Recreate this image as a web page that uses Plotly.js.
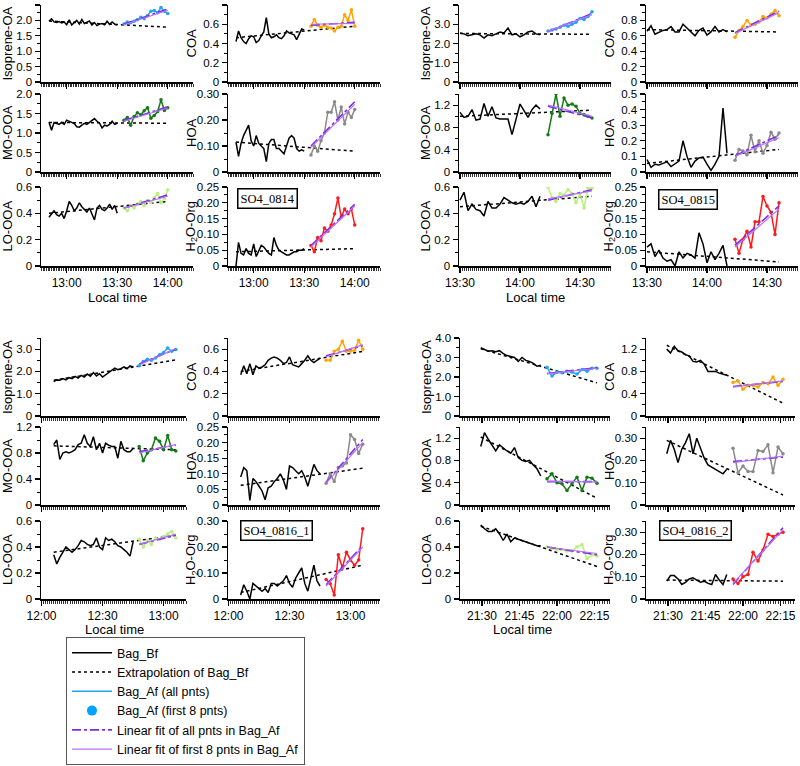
<!DOCTYPE html>
<html><head><meta charset="utf-8">
<script src="https://cdn.plot.ly/plotly-3.0.1.min.js"></script>
<style>html,body{margin:0;padding:0;background:#fff}</style>
</head><body><div id="chart" style="width:800px;height:766px"></div>
<script>
// ================= DATA =================
// ---- SO4_0814 (group 1) ----
const g1_date = '2018-08-14';
const g1_bf_time = ['12:49:30','12:51:00','12:52:30','12:54:00','12:55:30','12:57:00','12:58:30','13:00:00','13:01:30','13:03:00','13:04:30','13:06:00','13:07:30','13:09:00','13:10:30','13:12:00','13:13:30','13:15:00','13:16:30','13:18:00','13:19:30','13:21:00','13:22:30','13:24:00','13:25:30','13:27:00','13:28:30','13:30:00'];
const g1_af_time = ['13:34:00','13:36:00','13:38:00','13:40:00','13:42:00','13:44:00','13:46:00','13:48:00','13:50:00','13:52:00','13:54:00','13:56:00','13:58:00','14:00:00'];
const g1_iso_bf = [1.97,2.05,1.95,1.93,1.96,1.92,1.95,1.86,2.02,1.85,1.93,2.0,1.88,2.03,1.9,1.93,1.98,1.85,1.93,1.83,1.88,1.9,1.86,1.97,1.87,1.95,1.88,1.85];
const g1_iso_af = [1.88,1.95,1.92,1.97,2.02,2.1,2.05,2.15,2.3,2.32,2.25,2.42,2.3,2.22];
const g1_iso_ext = [1.98,1.78], g1_iso_fitAll = [1.88,2.37], g1_iso_fit8 = [1.86,2.33];
const g1_mo_bf = [1.28,1.07,1.27,1.24,1.22,1.27,1.22,1.33,1.3,1.28,1.24,1.16,1.15,1.2,1.25,1.22,1.27,1.33,1.37,1.3,1.25,1.13,1.2,1.18,1.22,1.3,1.22,1.25];
const g1_mo_af = [1.33,1.4,1.2,1.42,1.52,1.47,1.57,1.65,1.38,1.45,1.55,1.85,1.58,1.65];
const g1_mo_ext = [1.27,1.25], g1_mo_fitAll = [1.32,1.67], g1_mo_fit8 = [1.3,1.64];
const g1_lo_bf = [0.37,0.4,0.42,0.39,0.38,0.4,0.36,0.42,0.49,0.46,0.42,0.44,0.48,0.45,0.43,0.41,0.44,0.4,0.35,0.44,0.46,0.43,0.42,0.44,0.47,0.43,0.46,0.4];
const g1_lo_af = [0.44,0.42,0.46,0.44,0.47,0.49,0.46,0.5,0.48,0.52,0.55,0.48,0.51,0.58];
const g1_lo_ext = [0.40,0.49], g1_lo_fitAll = [0.44,0.54], g1_lo_fit8 = [0.44,0.53];
const g1_coa_bf = [0.42,0.53,0.46,0.42,0.4,0.45,0.48,0.47,0.41,0.43,0.48,0.52,0.67,0.5,0.46,0.47,0.49,0.46,0.45,0.48,0.53,0.51,0.5,0.49,0.44,0.5,0.55,0.54];
const g1_coa_af = [0.58,0.65,0.59,0.57,0.59,0.57,0.56,0.53,0.57,0.58,0.7,0.64,0.75,0.58];
const g1_coa_ext = [0.46,0.58], g1_coa_fitAll = [0.59,0.62], g1_coa_fit8 = [0.6,0.61];
const g1_hoa_bf = [0.115,0.06,0.11,0.14,0.16,0.18,0.12,0.1,0.14,0.11,0.1,0.09,0.04,0.11,0.125,0.125,0.09,0.09,0.08,0.07,0.1,0.13,0.14,0.13,0.09,0.08,0.085,0.08];
const g1_hoa_af = [0.065,0.1,0.08,0.12,0.15,0.23,0.23,0.27,0.2,0.25,0.185,0.23,0.21,0.24];
const g1_hoa_ext = [0.115,0.08], g1_hoa_fitAll = [0.1,0.27], g1_hoa_fit8 = [0.095,0.26];
const g1_h2o_bf = [0,0.075,0.04,0.035,0.055,0.04,0.035,0.07,0.03,0.05,0.065,0.06,0.05,0.04,0.035,0.09,0.065,0.05,0.045,0.04,0.035,0.035,0.04,0.045,0.045,0.05,0.05,0.055];
const g1_h2o_af = [0.065,0.045,0.09,0.08,0.12,0.11,0.13,0.165,0.215,0.155,0.18,0.165,0.18,0.13];
const g1_h2o_ext = [0.045,0.055], g1_h2o_fitAll = [0.065,0.195], g1_h2o_fit8 = [0.06,0.19];

// ---- SO4_0815 (group 2) ----
const g2_date = '2018-08-15';
const g2_bf_time = ['13:30:00','13:32:00','13:34:00','13:36:00','13:38:00','13:40:00','13:42:00','13:44:00','13:46:00','13:48:00','13:50:00','13:52:00','13:54:00','13:56:00','13:58:00','14:00:00','14:02:00','14:04:00','14:06:00','14:08:00','14:10:00'];
const g2_af_time = ['14:14:00','14:16:00','14:18:00','14:20:00','14:22:00','14:24:00','14:26:00','14:28:00','14:30:00','14:32:00','14:34:00','14:36:00'];
const g2_iso_bf = [2.55,2.5,2.4,2.45,2.5,2.45,2.28,2.45,2.4,2.5,2.6,2.55,2.8,2.45,2.5,2.35,2.45,2.6,2.65,2.5,2.45];
const g2_iso_af = [2.65,2.7,2.75,2.85,2.95,2.9,3.0,3.1,3.3,3.25,3.4,3.65];
const g2_iso_ext = [2.52,2.48], g2_iso_fitAll = [2.62,3.55], g2_iso_fit8 = [2.63,3.5];
const g2_mo_bf = [1.07,0.98,1.0,1.12,0.93,0.95,1.23,1.0,1.17,0.97,0.95,0.95,0.95,0.67,0.95,1.22,1.1,0.98,1.12,1.2,1.13];
const g2_mo_af = [0.67,1.05,1.4,1.0,1.33,1.2,1.22,1.18,1.05,1.03,1.0,0.97];
const g2_mo_ext = [1.0,1.11], g2_mo_fitAll = [1.18,0.97], g2_mo_fit8 = [1.2,1.0];
const g2_lo_bf = [0.5,0.56,0.42,0.47,0.43,0.42,0.38,0.49,0.44,0.44,0.47,0.52,0.5,0.48,0.47,0.48,0.47,0.49,0.53,0.45,0.53];
const g2_lo_af = [0.6,0.52,0.49,0.55,0.54,0.58,0.55,0.48,0.55,0.44,0.59,0.59];
const g2_lo_ext = [0.45,0.53], g2_lo_fitAll = [0.5,0.58], g2_lo_fit8 = [0.51,0.57];
const g2_coa_bf = [0.66,0.73,0.62,0.65,0.67,0.68,0.72,0.65,0.65,0.75,0.7,0.65,0.6,0.67,0.7,0.61,0.65,0.72,0.65,0.68,0.65];
const g2_coa_af = [0.58,0.67,0.72,0.8,0.74,0.75,0.78,0.85,0.83,0.88,0.93,0.86];
const g2_coa_ext = [0.68,0.65], g2_coa_fitAll = [0.64,0.92], g2_coa_fit8 = [0.63,0.9];
const g2_hoa_bf = [0.08,0.03,0.05,0.045,0.055,0.065,0.035,0.05,0.07,0.2,0.1,0.03,0.07,0.09,0.095,0.05,0.01,0.05,0.1,0.41,0.12];
const g2_hoa_af = [0.075,0.145,0.135,0.11,0.235,0.13,0.2,0.12,0.17,0.255,0.21,0.25];
const g2_hoa_ext = [0.055,0.145], g2_hoa_fitAll = [0.105,0.235], g2_hoa_fit8 = [0.1,0.22];
const g2_h2o_bf = [0.06,0.07,0.03,0.05,0.025,0.015,0.02,0.0,0.045,0.025,0.04,0.035,0.025,0.105,0.07,0.01,0.045,0.02,0.04,0.065,0.0];
const g2_h2o_af = [0.085,0.04,0.085,0.11,0.06,0.14,0.14,0.22,0.19,0.17,0.1,0.2];
const g2_h2o_ext = [0.045,0.013], g2_h2o_fitAll = [0.065,0.19], g2_h2o_fit8 = [0.06,0.18];

// ---- SO4_0816_1 (group 3) ----
const g3_date = '2018-08-16';
const g3_bf_time = ['12:06:00','12:07:30','12:09:00','12:10:30','12:12:00','12:13:30','12:15:00','12:16:30','12:18:00','12:19:30','12:21:00','12:22:30','12:24:00','12:25:30','12:27:00','12:28:30','12:30:00','12:31:30','12:33:00','12:34:30','12:36:00','12:37:30','12:39:00','12:40:30','12:42:00','12:43:30','12:45:00'];
const g3_af_time = ['12:48:00','12:50:00','12:52:00','12:54:00','12:56:00','12:58:00','13:00:00','13:02:00','13:04:00','13:06:00'];
const g3_iso_bf = [1.55,1.62,1.6,1.68,1.62,1.72,1.68,1.78,1.7,1.82,1.75,1.88,1.78,1.95,1.8,1.9,1.75,1.85,1.95,2.05,2.15,2.08,2.12,2.2,2.12,2.25,2.2];
const g3_iso_af = [2.25,2.45,2.55,2.5,2.6,2.75,2.85,3.05,2.9,2.98];
const g3_iso_ext = [1.6,2.52], g3_iso_fitAll = [2.33,3.0], g3_iso_fit8 = [2.3,3.02];
const g3_mo_bf = [0.93,1.0,0.7,0.8,0.82,0.8,0.82,0.85,0.93,0.95,1.08,0.95,0.9,1.05,0.85,0.95,0.8,0.95,0.92,0.9,0.9,0.72,0.98,0.85,0.82,0.82,0.87];
const g3_mo_af = [0.9,0.68,0.8,0.85,1.03,0.98,0.85,1.07,0.85,0.83];
const g3_mo_ext = [0.91,0.85], g3_mo_fitAll = [0.82,0.92], g3_mo_fit8 = [0.8,0.93];
const g3_lo_bf = [0.34,0.27,0.32,0.36,0.4,0.38,0.36,0.38,0.41,0.45,0.44,0.42,0.41,0.42,0.47,0.4,0.38,0.47,0.45,0.46,0.44,0.41,0.4,0.38,0.36,0.33,0.44];
const g3_lo_af = [0.46,0.4,0.45,0.42,0.47,0.46,0.48,0.5,0.52,0.47];
const g3_lo_ext = [0.36,0.49], g3_lo_fitAll = [0.42,0.49], g3_lo_fit8 = [0.42,0.5];
const g3_coa_bf = [0.37,0.45,0.38,0.47,0.37,0.45,0.43,0.44,0.46,0.5,0.52,0.53,0.52,0.5,0.47,0.48,0.53,0.46,0.45,0.44,0.47,0.5,0.54,0.5,0.48,0.5,0.52];
const g3_coa_af = [0.5,0.5,0.58,0.6,0.67,0.58,0.58,0.59,0.68,0.6];
const g3_coa_ext = [0.4,0.58], g3_coa_fitAll = [0.54,0.63], g3_coa_fit8 = [0.53,0.64];
const g3_hoa_bf = [0.09,0.12,0.11,0.015,0.085,0.075,0.06,0.045,0.017,0.055,0.06,0.075,0.085,0.1,0.08,0.05,0.125,0.12,0.11,0.1,0.11,0.09,0.06,0.1,0.13,0.11,0.1];
const g3_hoa_af = [0.07,0.1,0.075,0.12,0.125,0.135,0.225,0.21,0.165,0.195];
const g3_hoa_ext = [0.063,0.118], g3_hoa_fitAll = [0.072,0.21], g3_hoa_fit8 = [0.07,0.2];
const g3_h2o_bf = [0.015,0.055,0.03,0.0,0.06,0.05,0.04,0.03,0.04,0.025,0.06,0.06,0.05,0.06,0.07,0.09,0.06,0.045,0.08,0.1,0.12,0.06,0.03,0.08,0.13,0.07,0.05];
const g3_h2o_af = [0.075,0.06,0.015,0.17,0.12,0.18,0.15,0.13,0.15,0.27];
const g3_h2o_ext = [0.025,0.13], g3_h2o_fitAll = [0.055,0.205], g3_h2o_fit8 = [0.05,0.2];

// ---- SO4_0816_2 (group 4) ----
const g4_date = '2018-08-16';
const g4_bf_time = ['21:29:30','21:31:00','21:32:30','21:34:00','21:35:30','21:37:00','21:38:30','21:40:00','21:41:30','21:43:00','21:44:30','21:46:00','21:47:30','21:49:00','21:50:30','21:52:00','21:53:30'];
const g4_af_time = ['21:56:00','21:58:00','22:00:00','22:02:00','22:04:00','22:06:00','22:08:00','22:10:00','22:12:00','22:14:00','22:16:00'];
const g4_iso_bf = [3.5,3.4,3.32,3.35,3.3,3.35,3.2,3.1,3.05,3.0,2.8,3.0,2.85,2.8,2.7,2.55,2.6];
const g4_iso_af = [2.5,2.05,2.25,2.22,2.3,2.25,2.15,2.38,2.3,2.45,2.45];
const g4_iso_ext = [3.45,1.7], g4_iso_fitAll = [2.18,2.48], g4_iso_fit8 = [2.16,2.45];
const g4_mo_bf = [1.05,1.3,1.18,1.07,0.97,1.08,1.02,0.97,0.93,1.03,0.85,0.8,0.78,0.8,0.72,0.65,0.52];
const g4_mo_af = [0.47,0.56,0.4,0.38,0.26,0.38,0.5,0.26,0.5,0.48,0.39];
const g4_mo_ext = [1.22,0.12], g4_mo_fitAll = [0.42,0.42], g4_mo_fit8 = [0.43,0.41];
const g4_lo_bf = [0.57,0.54,0.52,0.52,0.54,0.5,0.45,0.5,0.44,0.47,0.46,0.45,0.44,0.43,0.42,0.41,0.41];
const g4_lo_af = [0.4,0.39,0.38,0.38,0.37,0.37,0.4,0.42,0.31,0.34,0.33];
const g4_lo_ext = [0.56,0.25], g4_lo_fitAll = [0.4,0.34], g4_lo_fit8 = [0.4,0.35];
const g4_coa_bf = [1.2,1.13,1.25,1.17,1.15,1.1,1.08,0.98,0.97,1.0,0.93,0.8,0.8,0.8,0.77,0.75,0.73];
const g4_coa_af = [0.6,0.63,0.48,0.55,0.55,0.52,0.6,0.58,0.7,0.55,0.66];
const g4_coa_ext = [1.27,0.23], g4_coa_fitAll = [0.53,0.62], g4_coa_fit8 = [0.52,0.63];
const g4_hoa_bf = [0.23,0.29,0.25,0.19,0.25,0.28,0.32,0.23,0.3,0.25,0.21,0.18,0.17,0.16,0.15,0.14,0.16];
const g4_hoa_af = [0.255,0.145,0.175,0.15,0.15,0.245,0.24,0.27,0.145,0.26,0.23];
const g4_hoa_ext = [0.29,0.045], g4_hoa_fitAll = [0.195,0.215], g4_hoa_fit8 = [0.19,0.22];
const g4_h2o_bf = [0.08,0.105,0.105,0.09,0.065,0.075,0.09,0.095,0.085,0.075,0.08,0.07,0.065,0.11,0.085,0.065,0.11];
const g4_h2o_af = [0.09,0.07,0.1,0.11,0.21,0.17,0.22,0.29,0.28,0.29,0.3];
const g4_h2o_ext = [0.085,0.08], g4_h2o_fitAll = [0.065,0.32], g4_h2o_fit8 = [0.07,0.31];

// axis maxima / tick steps / decimals for each panel
const g1_yaxes = {iso:[2.5,0.5,1], mo:[2.0,0.5,1], lo:[0.6,0.2,1], coa:[0.8,0.2,1], hoa:[0.30,0.10,2], h2o:[0.25,0.05,2]};
const g2_yaxes = {iso:[4.0,1.0,1], mo:[1.4,0.4,1], lo:[0.6,0.2,1], coa:[1.0,0.2,1], hoa:[0.5,0.1,1], h2o:[0.25,0.05,2]};
const g3_yaxes = {iso:[3.5,1.0,1], mo:[1.2,0.4,1], lo:[0.6,0.2,1], coa:[0.7,0.2,1], hoa:[0.25,0.05,2], h2o:[0.30,0.10,2]};
const g4_yaxes = {iso:[4.0,1.0,1], mo:[1.4,0.4,1], lo:[0.6,0.2,1], coa:[1.4,0.4,1], hoa:[0.35,0.10,2], h2o:[0.35,0.10,2]};

const legendNames = ['Bag_Bf','Extrapolation of Bag_Bf','Bag_Af (all pnts)','Bag_Af (first 8 pnts)','Linear fit of all pnts in Bag_Af','Linear fit of first 8 pnts in Bag_Af'];
const sampleLabels = ['SO4_0814','SO4_0815','SO4_0816_1','SO4_0816_2'];
const xTitle = 'Local time';

// ================= BUILD =================
const W = 800, H = 766;
const FONT = 'Arial, "Liberation Sans", sans-serif';
const SPEC = {
  iso:{title:'Isoprene-OA', color:'#1EA5F5'},
  mo:{title:'MO-OOA', color:'#157A15'},
  lo:{title:'LO-OOA', color:'#B8F07C'},
  coa:{title:'COA', color:'#FFA500'},
  hoa:{title:'HOA', color:'#8A8A8A'},
  h2o:{title:'H<sub>2</sub>O-Org', color:'#FF1A1A'}
};
const FIT_ALL = '#7A2FE0', FIT_8 = '#B870FF';
const ROWS_TOP = [[5,82],[94,172],[187,266]];
const ROWS_BOT = [[338,416],[427,505],[521,599]];

const DATA = {
  g1:{iso:[g1_iso_bf,g1_iso_af,g1_iso_ext,g1_iso_fitAll,g1_iso_fit8], mo:[g1_mo_bf,g1_mo_af,g1_mo_ext,g1_mo_fitAll,g1_mo_fit8], lo:[g1_lo_bf,g1_lo_af,g1_lo_ext,g1_lo_fitAll,g1_lo_fit8], coa:[g1_coa_bf,g1_coa_af,g1_coa_ext,g1_coa_fitAll,g1_coa_fit8], hoa:[g1_hoa_bf,g1_hoa_af,g1_hoa_ext,g1_hoa_fitAll,g1_hoa_fit8], h2o:[g1_h2o_bf,g1_h2o_af,g1_h2o_ext,g1_h2o_fitAll,g1_h2o_fit8]},
  g2:{iso:[g2_iso_bf,g2_iso_af,g2_iso_ext,g2_iso_fitAll,g2_iso_fit8], mo:[g2_mo_bf,g2_mo_af,g2_mo_ext,g2_mo_fitAll,g2_mo_fit8], lo:[g2_lo_bf,g2_lo_af,g2_lo_ext,g2_lo_fitAll,g2_lo_fit8], coa:[g2_coa_bf,g2_coa_af,g2_coa_ext,g2_coa_fitAll,g2_coa_fit8], hoa:[g2_hoa_bf,g2_hoa_af,g2_hoa_ext,g2_hoa_fitAll,g2_hoa_fit8], h2o:[g2_h2o_bf,g2_h2o_af,g2_h2o_ext,g2_h2o_fitAll,g2_h2o_fit8]},
  g3:{iso:[g3_iso_bf,g3_iso_af,g3_iso_ext,g3_iso_fitAll,g3_iso_fit8], mo:[g3_mo_bf,g3_mo_af,g3_mo_ext,g3_mo_fitAll,g3_mo_fit8], lo:[g3_lo_bf,g3_lo_af,g3_lo_ext,g3_lo_fitAll,g3_lo_fit8], coa:[g3_coa_bf,g3_coa_af,g3_coa_ext,g3_coa_fitAll,g3_coa_fit8], hoa:[g3_hoa_bf,g3_hoa_af,g3_hoa_ext,g3_hoa_fitAll,g3_hoa_fit8], h2o:[g3_h2o_bf,g3_h2o_af,g3_h2o_ext,g3_h2o_fitAll,g3_h2o_fit8]},
  g4:{iso:[g4_iso_bf,g4_iso_af,g4_iso_ext,g4_iso_fitAll,g4_iso_fit8], mo:[g4_mo_bf,g4_mo_af,g4_mo_ext,g4_mo_fitAll,g4_mo_fit8], lo:[g4_lo_bf,g4_lo_af,g4_lo_ext,g4_lo_fitAll,g4_lo_fit8], coa:[g4_coa_bf,g4_coa_af,g4_coa_ext,g4_coa_fitAll,g4_coa_fit8], hoa:[g4_hoa_bf,g4_hoa_af,g4_hoa_ext,g4_hoa_fitAll,g4_hoa_fit8], h2o:[g4_h2o_bf,g4_h2o_af,g4_h2o_ext,g4_h2o_fitAll,g4_h2o_fit8]}
};

const groups = [
  {id:'g1', date:g1_date, bfT:g1_bf_time, afT:g1_af_time, yax:g1_yaxes, rows:ROWS_TOP,
   cols:[[41,193],[228,380]], xr:[['12:44:45','14:15:00'],['12:44:45','14:15:00']], dtMin:30, lab:[267,198], xt:[117,297]},
  {id:'g2', date:g2_date, bfT:g2_bf_time, afT:g2_af_time, yax:g2_yaxes, rows:ROWS_TOP,
   cols:[[459,611],[646,798]], xr:[['13:29:30','14:45:30'],['13:29:30','14:45:30']], dtMin:30, lab:[688,200], xt:[535,297]},
  {id:'g3', date:g3_date, bfT:g3_bf_time, afT:g3_af_time, yax:g3_yaxes, rows:ROWS_BOT,
   cols:[[41,186],[228,380]], xr:[['11:59:45','13:11:00'],['11:59:45','13:14:30']], dtMin:30, lab:[276,530], xt:[115,629]},
  {id:'g4', date:g4_date, bfT:g4_bf_time, afT:g4_af_time, yax:g4_yaxes, rows:ROWS_BOT,
   cols:[[460,610],[646,795]], xr:[['21:21:12','22:21:12'],['21:21:12','22:20:48']], dtMin:15, lab:[695,530], xt:[522,629]}
];

const traces = [];
const annotations = [];
const layout = {
  width:W, height:H, margin:{l:0,r:0,t:0,b:0},
  paper_bgcolor:'#fff', plot_bgcolor:'rgba(0,0,0,0)',
  font:{family:FONT, size:12, color:'#000'},
  hovermode:false,
  showlegend:true,
  legend:{x:66/W, y:0.001, xanchor:'left', yanchor:'bottom', bgcolor:'#fff', bordercolor:'#555', borderwidth:1,
          font:{family:FONT, size:12.5, color:'#000'}, tracegroupgap:0, itemwidth:40}
};

let k = 0;
const COLS = [['iso','mo','lo'],['coa','hoa','h2o']];
groups.forEach((g, gi) => {
  const T = s => g.date + ' ' + s;
  const bfX = g.bfT.map(T), afX = g.afT.map(T);
  const spanX = [bfX[0], afX[afX.length-1]];
  const fitX = [afX[0], afX[afX.length-1]];
  COLS.forEach((col, ci) => {
    col.forEach((sp, ri) => {
      k++;
      const sfx = k === 1 ? '' : String(k);
      const xa = 'x' + sfx, ya = 'y' + sfx;
      const first = (k === 1);
      const c = SPEC[sp].color;
      const [bf, af, ext, fa, f8] = DATA[g.id][sp];
      traces.push({x:bfX, y:bf, xaxis:xa, yaxis:ya, mode:'lines', line:{color:'#000', width:1.5},
        name:legendNames[0], showlegend:first, legendrank:1, cliponaxis:false});
      traces.push({x:spanX, y:ext, xaxis:xa, yaxis:ya, mode:'lines', line:{color:'#000', width:1.5, dash:'dot'},
        name:legendNames[1], showlegend:first, legendrank:2});
      traces.push({x:afX, y:af, xaxis:xa, yaxis:ya, mode:'lines', line:{color:c, width:1.5},
        name:legendNames[2], showlegend:first, legendrank:3});
      traces.push({x:afX, y:af, xaxis:xa, yaxis:ya, mode:'markers',
        marker:{size:3.5, color:c}, name:legendNames[3], showlegend:false, legendrank:4});
      traces.push({x:fitX, y:fa, xaxis:xa, yaxis:ya, mode:'lines', line:{color:FIT_ALL, width:1.6, dash:'dashdot'},
        name:legendNames[4], showlegend:first, legendrank:5});
      traces.push({x:fitX, y:f8, xaxis:xa, yaxis:ya, mode:'lines', line:{color:FIT_8, width:1.2},
        name:legendNames[5], showlegend:first, legendrank:6});

      const [x0, x1] = g.cols[ci];
      const [yt, yb] = g.rows[ri];
      const [ymax, ydt, dec] = g.yax[sp];
      const tv = [], tt = [];
      for (let v = 0; v <= ymax + 1e-9; v += ydt) { const r = Math.round(v*1000)/1000; tv.push(r); tt.push(r === 0 ? '0' : r.toFixed(dec)); }
      const bottom = (ri === 2);
      layout['xaxis'+sfx] = {
        type:'date', domain:[x0/W, x1/W], anchor:ya, range:[T(g.xr[ci][0]), T(g.xr[ci][1])],
        showline:true, linecolor:'#000', linewidth:1.5, mirror:false, showgrid:false, zeroline:false,
        ticks:'outside', ticklen:5, tickwidth:1.2, tickcolor:'#000',
        tick0:g.date+' 00:00:00', dtick:g.dtMin*60000, tickformat:'%H:%M',
        showticklabels:bottom, tickfont:{family:FONT, size:12, color:'#000'},
        minor:{dtick:60000, tick0:g.date+' 00:00:00', ticks:'outside', ticklen:3, tickwidth:0.8, tickcolor:'#000', showgrid:false}
      };
      layout['yaxis'+sfx] = {
        domain:[1-yb/H, 1-yt/H], anchor:xa, range:[0, ymax],
        showline:true, linecolor:'#000', linewidth:1.5, showgrid:false, zeroline:false,
        tickmode:'array', tickvals:tv, ticktext:tt,
        ticks:'outside', ticklen:5, tickwidth:1.2, tickcolor:'#000',
        tickfont:{family:FONT, size:11.5, color:'#000'},
        minor:{dtick:ydt/2, tick0:0, ticks:'outside', ticklen:3, tickwidth:1, tickcolor:'#000', showgrid:false}
      };
      annotations.push({xref:'paper', yref:'paper', x:(x0 - (ci === 0 ? 34 : 37))/W, y:1-((yt+yb)/2)/H,
        text:SPEC[sp].title, textangle:-90, showarrow:false, xanchor:'center', yanchor:'middle',
        font:{family:FONT, size:13, color:'#000'}});
    });
  });
  annotations.push({xref:'paper', yref:'paper', x:g.lab[0]/W, y:1-g.lab[1]/H, text:sampleLabels[gi],
    showarrow:false, xanchor:'center', yanchor:'middle', bgcolor:'#fff', bordercolor:'#000', borderwidth:1.5, borderpad:2,
    font:{family:'"Times New Roman", "Liberation Serif", serif', size:12.5, color:'#000'}});
  annotations.push({xref:'paper', yref:'paper', x:g.xt[0]/W, y:1-g.xt[1]/H, text:xTitle,
    showarrow:false, xanchor:'center', yanchor:'middle', font:{family:FONT, size:13, color:'#000'}});
});

// legend-only entry for the marker symbol (draws nothing in the panels)
traces.push({x:[null], y:[null], xaxis:'x', yaxis:'y', mode:'markers', marker:{size:10, color:'#00A2FF'},
  name:legendNames[3], showlegend:true, legendrank:4});

layout.annotations = annotations;
Plotly.newPlot('chart', traces, layout, {staticPlot:true, displayModeBar:false});
</script></body></html>
